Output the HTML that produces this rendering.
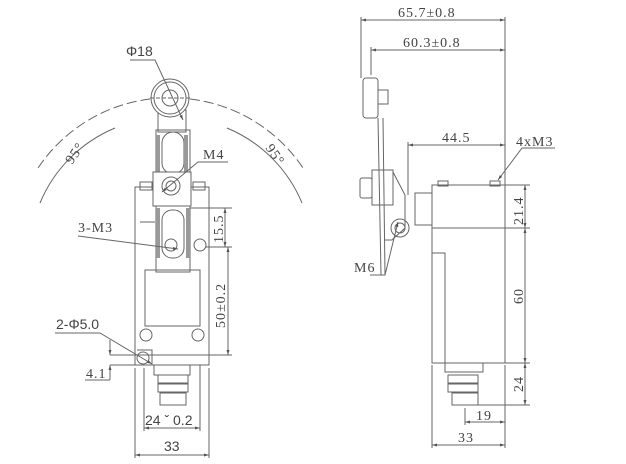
<!DOCTYPE html>
<html><head><meta charset="utf-8"><style>
html,body{margin:0;padding:0;background:#fff;}
svg{display:block;}
text{font-family:"Liberation Serif",serif;font-size:14px;fill:#444;letter-spacing:1px;}
.s{font-family:"Liberation Sans",sans-serif;letter-spacing:0;}
</style></head><body>
<svg width="626" height="464" viewBox="0 0 626 464" xmlns="http://www.w3.org/2000/svg">
<defs><marker id="a" viewBox="0 0 10 10" refX="10" refY="5" markerWidth="5" markerHeight="5" orient="auto-start-reverse"><path d="M0,2 L10,5 L0,8z" fill="#555"/></marker></defs>
<g fill="none" stroke="#666" stroke-width="1">
<path d="M38,168 A158,158 0 0 1 150,99" stroke-dasharray="10,4"/>
<path d="M190,99 A158,158 0 0 1 303,168" stroke-dasharray="10,4"/>
<path d="M40,203 A139,139 0 0 1 115,128"/>
<path d="M227,128 A139,139 0 0 1 302,203"/>
<rect x="135" y="187" width="74" height="178"/>
<rect x="145" y="270" width="55" height="56"/>
<rect x="140" y="182" width="12" height="8"/>
<rect x="193" y="182" width="12" height="8"/>
<line x1="140" y1="222" x2="155" y2="222"/>
<rect x="158" y="110" width="28" height="22"/>
<rect x="156" y="130" width="34" height="142"/>
<rect x="162" y="132" width="22" height="42" rx="11"/>
<rect x="162" y="210" width="22" height="48" rx="10"/>
<path d="M158,135 v38 M186,135 v38 M158,208 v50 M188,208 v50" stroke="#999" stroke-width="4"/>
<rect x="153" y="172" width="38" height="34" fill="#fff"/>
<circle cx="171" cy="186" r="9"/><circle cx="171" cy="186" r="5"/>
<circle cx="170" cy="98" r="19" fill="#fff"/><circle cx="170" cy="98" r="16"/><circle cx="170" cy="98" r="8"/>
<line x1="150" y1="98" x2="192" y2="98" stroke-dasharray="4,2"/>
<circle cx="171" cy="245" r="6"/><circle cx="200" cy="245" r="6"/>
<circle cx="146" cy="335" r="6"/><circle cx="198" cy="335" r="6"/>
<circle cx="143" cy="358" r="6"/>
<path d="M137,350 h15 v15"/>
<rect x="154" y="365" width="36" height="10"/>
<rect x="158" y="375" width="30" height="8"/>
<rect x="158" y="384" width="30" height="8"/>
<rect x="160" y="393" width="26" height="12"/>
<line x1="135" y1="368" x2="135" y2="458"/><line x1="209" y1="368" x2="209" y2="458"/>
<line x1="135" y1="455" x2="209" y2="455" marker-start="url(#a)" marker-end="url(#a)"/>
<line x1="144" y1="368" x2="144" y2="431"/><line x1="200" y1="365" x2="200" y2="431"/>
<line x1="144" y1="428" x2="200" y2="428" marker-start="url(#a)" marker-end="url(#a)"/>
<line x1="190" y1="208" x2="232" y2="208"/><line x1="205" y1="247" x2="232" y2="247"/>
<line x1="225" y1="208" x2="225" y2="247" marker-start="url(#a)" marker-end="url(#a)"/>
<line x1="228" y1="247" x2="228" y2="355" marker-start="url(#a)" marker-end="url(#a)"/>
<line x1="110" y1="355" x2="232" y2="355"/><line x1="110" y1="365" x2="150" y2="365"/>
<line x1="110" y1="340" x2="110" y2="355" marker-end="url(#a)"/>
<line x1="110" y1="380" x2="110" y2="365" marker-end="url(#a)"/>
<line x1="85" y1="380" x2="110" y2="380"/>
<path d="M130,60 H155 L183,120" marker-end="url(#a)"/>
<path d="M228,162 H198 L162,192" marker-end="url(#a)"/>
<path d="M78,236 L178,249" marker-end="url(#a)"/>
<path d="M55,333 H100 L152,364" marker-end="url(#a)"/>
<line x1="361" y1="17" x2="361" y2="78"/><line x1="505" y1="17" x2="505" y2="185"/>
<line x1="361" y1="20" x2="505" y2="20" marker-start="url(#a)" marker-end="url(#a)"/>
<line x1="371" y1="47" x2="371" y2="75"/>
<line x1="371" y1="50" x2="505" y2="50" marker-start="url(#a)" marker-end="url(#a)"/>
<line x1="408" y1="142" x2="408" y2="195"/>
<line x1="408" y1="145" x2="505" y2="145" marker-start="url(#a)" marker-end="url(#a)"/>
<rect x="363" y="78" width="15" height="40" rx="3"/>
<rect x="378" y="90" width="10" height="14"/>
<path d="M378,118 L381,275 H385 L383,118"/>
<rect x="372" y="170" width="21" height="35"/>
<rect x="360" y="178" width="12" height="20" rx="2"/>
<path d="M393,172 L405,195 V228 L392,240 L385,240"/>
<circle cx="400" cy="228" r="9"/><circle cx="400" cy="228" r="5"/>
<path d="M370,275 H385 L398,222" marker-end="url(#a)"/>
<rect x="415" y="193" width="17" height="32"/>
<rect x="432" y="185" width="73" height="43"/>
<rect x="438" y="181" width="10" height="5"/><rect x="490" y="181" width="10" height="5"/>
<rect x="432" y="228" width="73" height="135"/>
<path d="M432,253 H445 V372"/>
<rect x="445" y="363" width="38" height="9"/>
<rect x="448" y="375" width="30" height="8"/>
<rect x="448" y="384" width="30" height="8"/>
<rect x="452" y="393" width="26" height="12"/>
<path d="M555,148 H522 L498,180" marker-end="url(#a)"/>
<line x1="505" y1="185" x2="530" y2="185"/><line x1="505" y1="228" x2="530" y2="228"/>
<line x1="505" y1="363" x2="530" y2="363"/><line x1="478" y1="405" x2="530" y2="405"/>
<line x1="525" y1="185" x2="525" y2="228" marker-start="url(#a)" marker-end="url(#a)"/>
<line x1="525" y1="228" x2="525" y2="363" marker-start="url(#a)" marker-end="url(#a)"/>
<line x1="525" y1="363" x2="525" y2="405" marker-start="url(#a)" marker-end="url(#a)"/>
<line x1="465" y1="408" x2="465" y2="425"/><line x1="505" y1="365" x2="505" y2="448"/>
<line x1="465" y1="422" x2="505" y2="422" marker-start="url(#a)" marker-end="url(#a)"/>
<line x1="432" y1="365" x2="432" y2="448"/>
<line x1="432" y1="445" x2="505" y2="445" marker-start="url(#a)" marker-end="url(#a)"/>
</g>
<text class="s" x="126" y="56">Φ18</text>
<text x="203" y="159">M4</text>
<text x="78" y="232">3-M3</text>
<text class="s" x="56" y="329">2-Φ5.0</text>
<text x="86" y="378">4.1</text>
<text class="s" x="145" y="425">24 ˇ 0.2</text>
<text class="s" x="164" y="451">33</text>
<text transform="translate(223,243) rotate(-90)">15.5</text>
<text transform="translate(225,328) rotate(-90)">50±0.2</text>
<text transform="translate(72,165) rotate(-55)">95°</text>
<text transform="translate(265,148) rotate(55)">95°</text>
<text x="398" y="17">65.7±0.8</text>
<text x="403" y="47">60.3±0.8</text>
<text x="442" y="142">44.5</text>
<text x="516" y="146">4xM3</text>
<text x="354" y="272">M6</text>
<text transform="translate(523,225) rotate(-90)">21.4</text>
<text transform="translate(523,304) rotate(-90)">60</text>
<text transform="translate(523,392) rotate(-90)">24</text>
<text x="476" y="420">19</text>
<text x="458" y="442">33</text>
</svg>
</body></html>
